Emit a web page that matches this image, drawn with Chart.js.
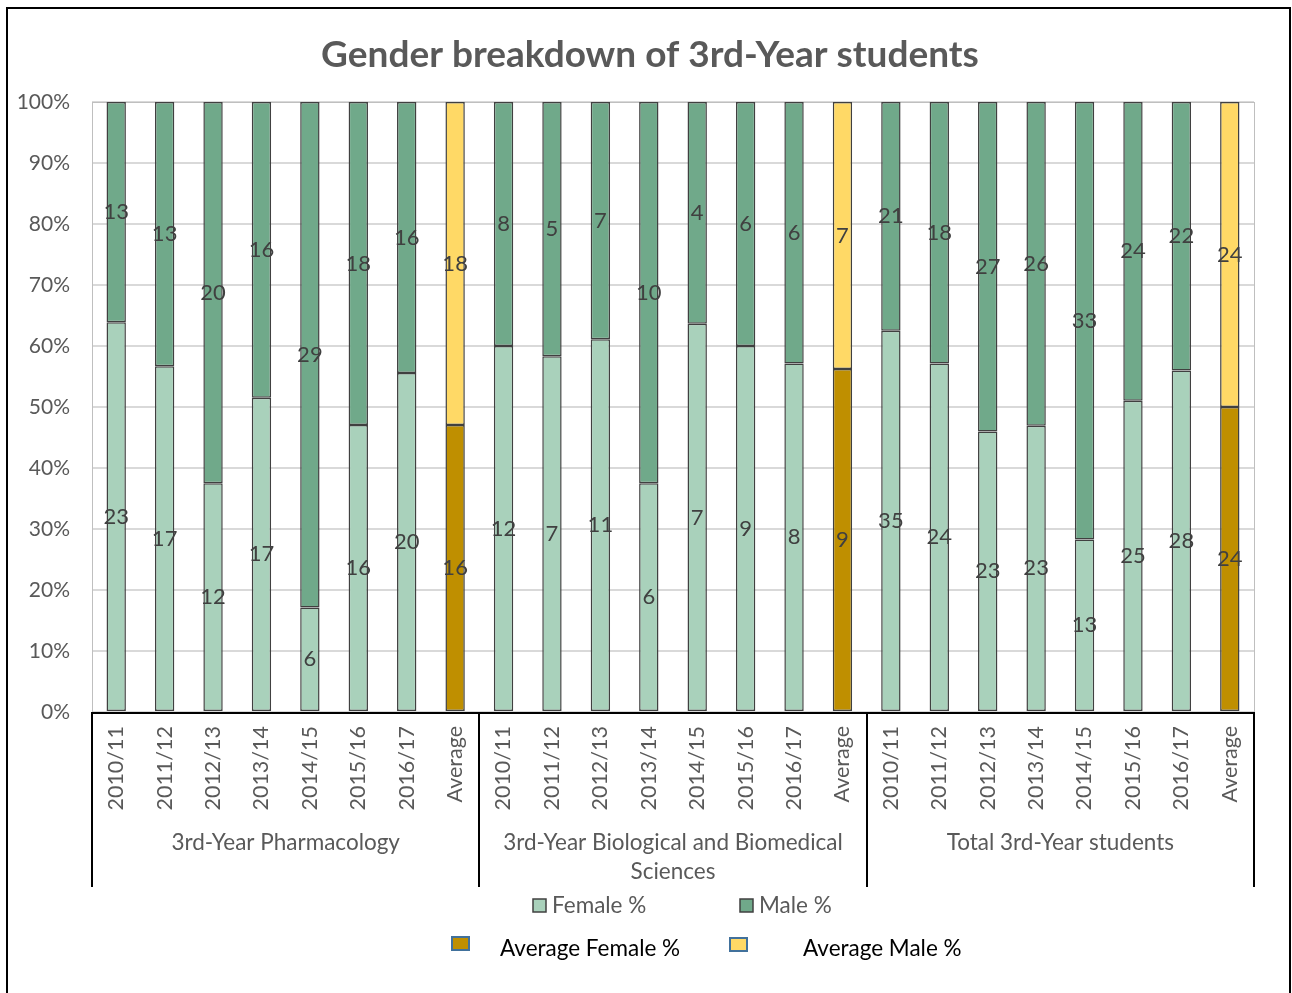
<!DOCTYPE html>
<html>
<head>
<meta charset="utf-8">
<script src="https://cdn.jsdelivr.net/npm/chart.js@4.4.1/dist/chart.umd.min.js"></script>
<style>
  html, body { margin:0; padding:0; background:#fff; }
  #wrap { position:absolute; left:0; top:0; width:1292px; height:993px; }
</style>
</head>
<body>
<div id="wrap"><canvas id="c" width="1292" height="993"></canvas></div>
<script>
// ---- data ----
const groups = ["3rd-Year Pharmacology", "3rd-Year Biological and Biomedical\nSciences", "Total 3rd-Year students"];
const periods = ["2010/11", "2011/12", "2012/13", "2013/14", "2014/15", "2015/16", "2016/17", "Average"];
const femaleCounts = [23, 17, 12, 17, 6, 16, 20, 16,   12, 7, 11, 6, 7, 9, 8, 9,   35, 24, 23, 23, 13, 25, 28, 24];
const maleCounts   = [13, 13, 20, 16, 29, 18, 16, 18,  8, 5, 7, 10, 4, 6, 6, 7,    21, 18, 27, 26, 33, 24, 22, 24];
const yTicks = [0, 10, 20, 30, 40, 50, 60, 70, 80, 90, 100];

const labels = [];
groups.forEach(() => periods.forEach(p => labels.push(p)));
const femalePct = femaleCounts.map((f, i) => f / (f + maleCounts[i]) * 100);
const malePct = maleCounts.map((m, i) => m / (femaleCounts[i] + m) * 100);

const C_F = '#A9D1BB', C_M = '#70A98A', C_AF = '#BF8F00', C_AM = '#FFD966';
const femaleColors = labels.map(l => l === 'Average' ? C_AF : C_F);
const maleColors = labels.map(l => l === 'Average' ? C_AM : C_M);

const FONT = 'Lato, "Open Sans", sans-serif';
const GRAY = '#595959';

const framePlugin = {
  id: 'frame',
  beforeDraw(chart) {
    const ctx = chart.ctx;
    ctx.save();
    ctx.fillStyle = '#fff';
    ctx.fillRect(0, 0, chart.width, chart.height);
    ctx.restore();
  },
  beforeDatasetsDraw(chart) {
    const { ctx, chartArea: a } = chart;
    ctx.save();
    ctx.strokeStyle = '#BFBFBF';
    ctx.lineWidth = 1;
    ctx.strokeRect(a.left + 0.5, a.top + 0.5, a.right - a.left, a.bottom - a.top);
    ctx.restore();
  },
  afterDraw(chart) {
    const { ctx, chartArea: a } = chart;
    ctx.save();
    // outer frame
    ctx.strokeStyle = '#000';
    ctx.lineWidth = 2;
    ctx.strokeRect(7, 8, 1283, 990);
    // x axis line
    ctx.beginPath();
    ctx.moveTo(a.left, a.bottom + 1);
    ctx.lineTo(a.right, a.bottom + 1);
    ctx.stroke();
    // group separators
    const n = periods.length;
    const step = (a.right - a.left) / labels.length;
    for (let g = 0; g <= groups.length; g++) {
      const x = Math.round(a.left + g * n * step);
      ctx.beginPath();
      ctx.moveTo(x, a.bottom);
      ctx.lineTo(x, 887);
      ctx.stroke();
    }
    // group labels
    ctx.fillStyle = GRAY;
    ctx.font = '22.5px ' + FONT;
    ctx.textAlign = 'center';
    ctx.textBaseline = 'middle';
    groups.forEach((g, gi) => {
      const cx = a.left + (gi * n + n / 2) * step;
      g.split('\n').forEach((line, li) => ctx.fillText(line, cx, 843 + li * 29));
    });
    // title
    ctx.font = 'bold 37px ' + FONT;
    ctx.fillText('Gender breakdown of 3rd-Year students', 650, 55);
    // legend row 1
    ctx.font = '22.5px ' + FONT;
    ctx.textAlign = 'left';
    ctx.lineWidth = 1.5;
    ctx.strokeStyle = '#404040';
    ctx.fillStyle = C_F; ctx.fillRect(533, 899, 13, 13); ctx.strokeRect(533, 899, 13, 13);
    ctx.fillStyle = GRAY; ctx.fillText('Female %', 552, 906);
    ctx.fillStyle = C_M; ctx.fillRect(740, 899, 13, 13); ctx.strokeRect(740, 899, 13, 13);
    ctx.fillStyle = GRAY; ctx.fillText('Male %', 759, 906);
    // legend row 2
    ctx.lineWidth = 2;
    ctx.strokeStyle = '#41719C';
    ctx.fillStyle = C_AF; ctx.fillRect(452, 937, 17, 13); ctx.strokeRect(452, 937, 17, 13);
    ctx.fillStyle = '#000'; ctx.fillText('Average Female %', 500, 949);
    ctx.fillStyle = C_AM; ctx.fillRect(730, 938, 17, 13); ctx.strokeRect(730, 938, 17, 13);
    ctx.fillStyle = '#000'; ctx.fillText('Average Male %', 803, 949);
    ctx.restore();
  }
};

const labelPlugin = {
  id: 'vals',
  afterDatasetsDraw(chart) {
    const ctx = chart.ctx;
    ctx.save();
    ctx.font = '22px ' + FONT;
    ctx.fillStyle = '#404040';
    ctx.textAlign = 'center';
    ctx.textBaseline = 'middle';
    const counts = [femaleCounts, maleCounts];
    chart.data.datasets.forEach((ds, di) => {
      chart.getDatasetMeta(di).data.forEach((el, i) => {
        ctx.fillText(String(counts[di][i]), el.x, (el.y + el.base) / 2);
      });
    });
    ctx.restore();
  }
};

new Chart(document.getElementById('c'), {
  type: 'bar',
  data: {
    labels: labels,
    datasets: [
      { label: 'Female %', data: femalePct, backgroundColor: femaleColors, borderColor: '#404040', borderWidth: 1.5, borderSkipped: false },
      { label: 'Male %', data: malePct, backgroundColor: maleColors, borderColor: '#404040', borderWidth: 1.5, borderSkipped: false }
    ]
  },
  options: {
    responsive: false,
    animation: false,
    events: [],
    layout: { padding: { left: 0, top: 102, right: 38, bottom: 181 } },
    datasets: { bar: { barPercentage: 0.4, categoryPercentage: 1.0 } },
    plugins: { legend: { display: false }, tooltip: { enabled: false }, title: { display: false } },
    scales: {
      x: {
        stacked: true,
        grid: { display: false },
        border: { display: false },
        ticks: { maxRotation: 90, minRotation: 90, autoSkip: false, color: GRAY, font: { size: 21.5, family: FONT }, padding: 6 },
        afterFit(s) { s.height = 100; }
      },
      y: {
        stacked: true,
        min: 0, max: 100,
        afterBuildTicks(s) { s.ticks = yTicks.map(v => ({ value: v })); },
        grid: { color: '#D9D9D9', lineWidth: 2, drawTicks: false },
        border: { display: false },
        ticks: { color: GRAY, font: { size: 21, family: FONT }, padding: 22, callback: v => v + '%' },
        afterFit(s) { s.width = 92; }
      }
    }
  },
  plugins: [framePlugin, labelPlugin]
});
</script>
</body>
</html>
